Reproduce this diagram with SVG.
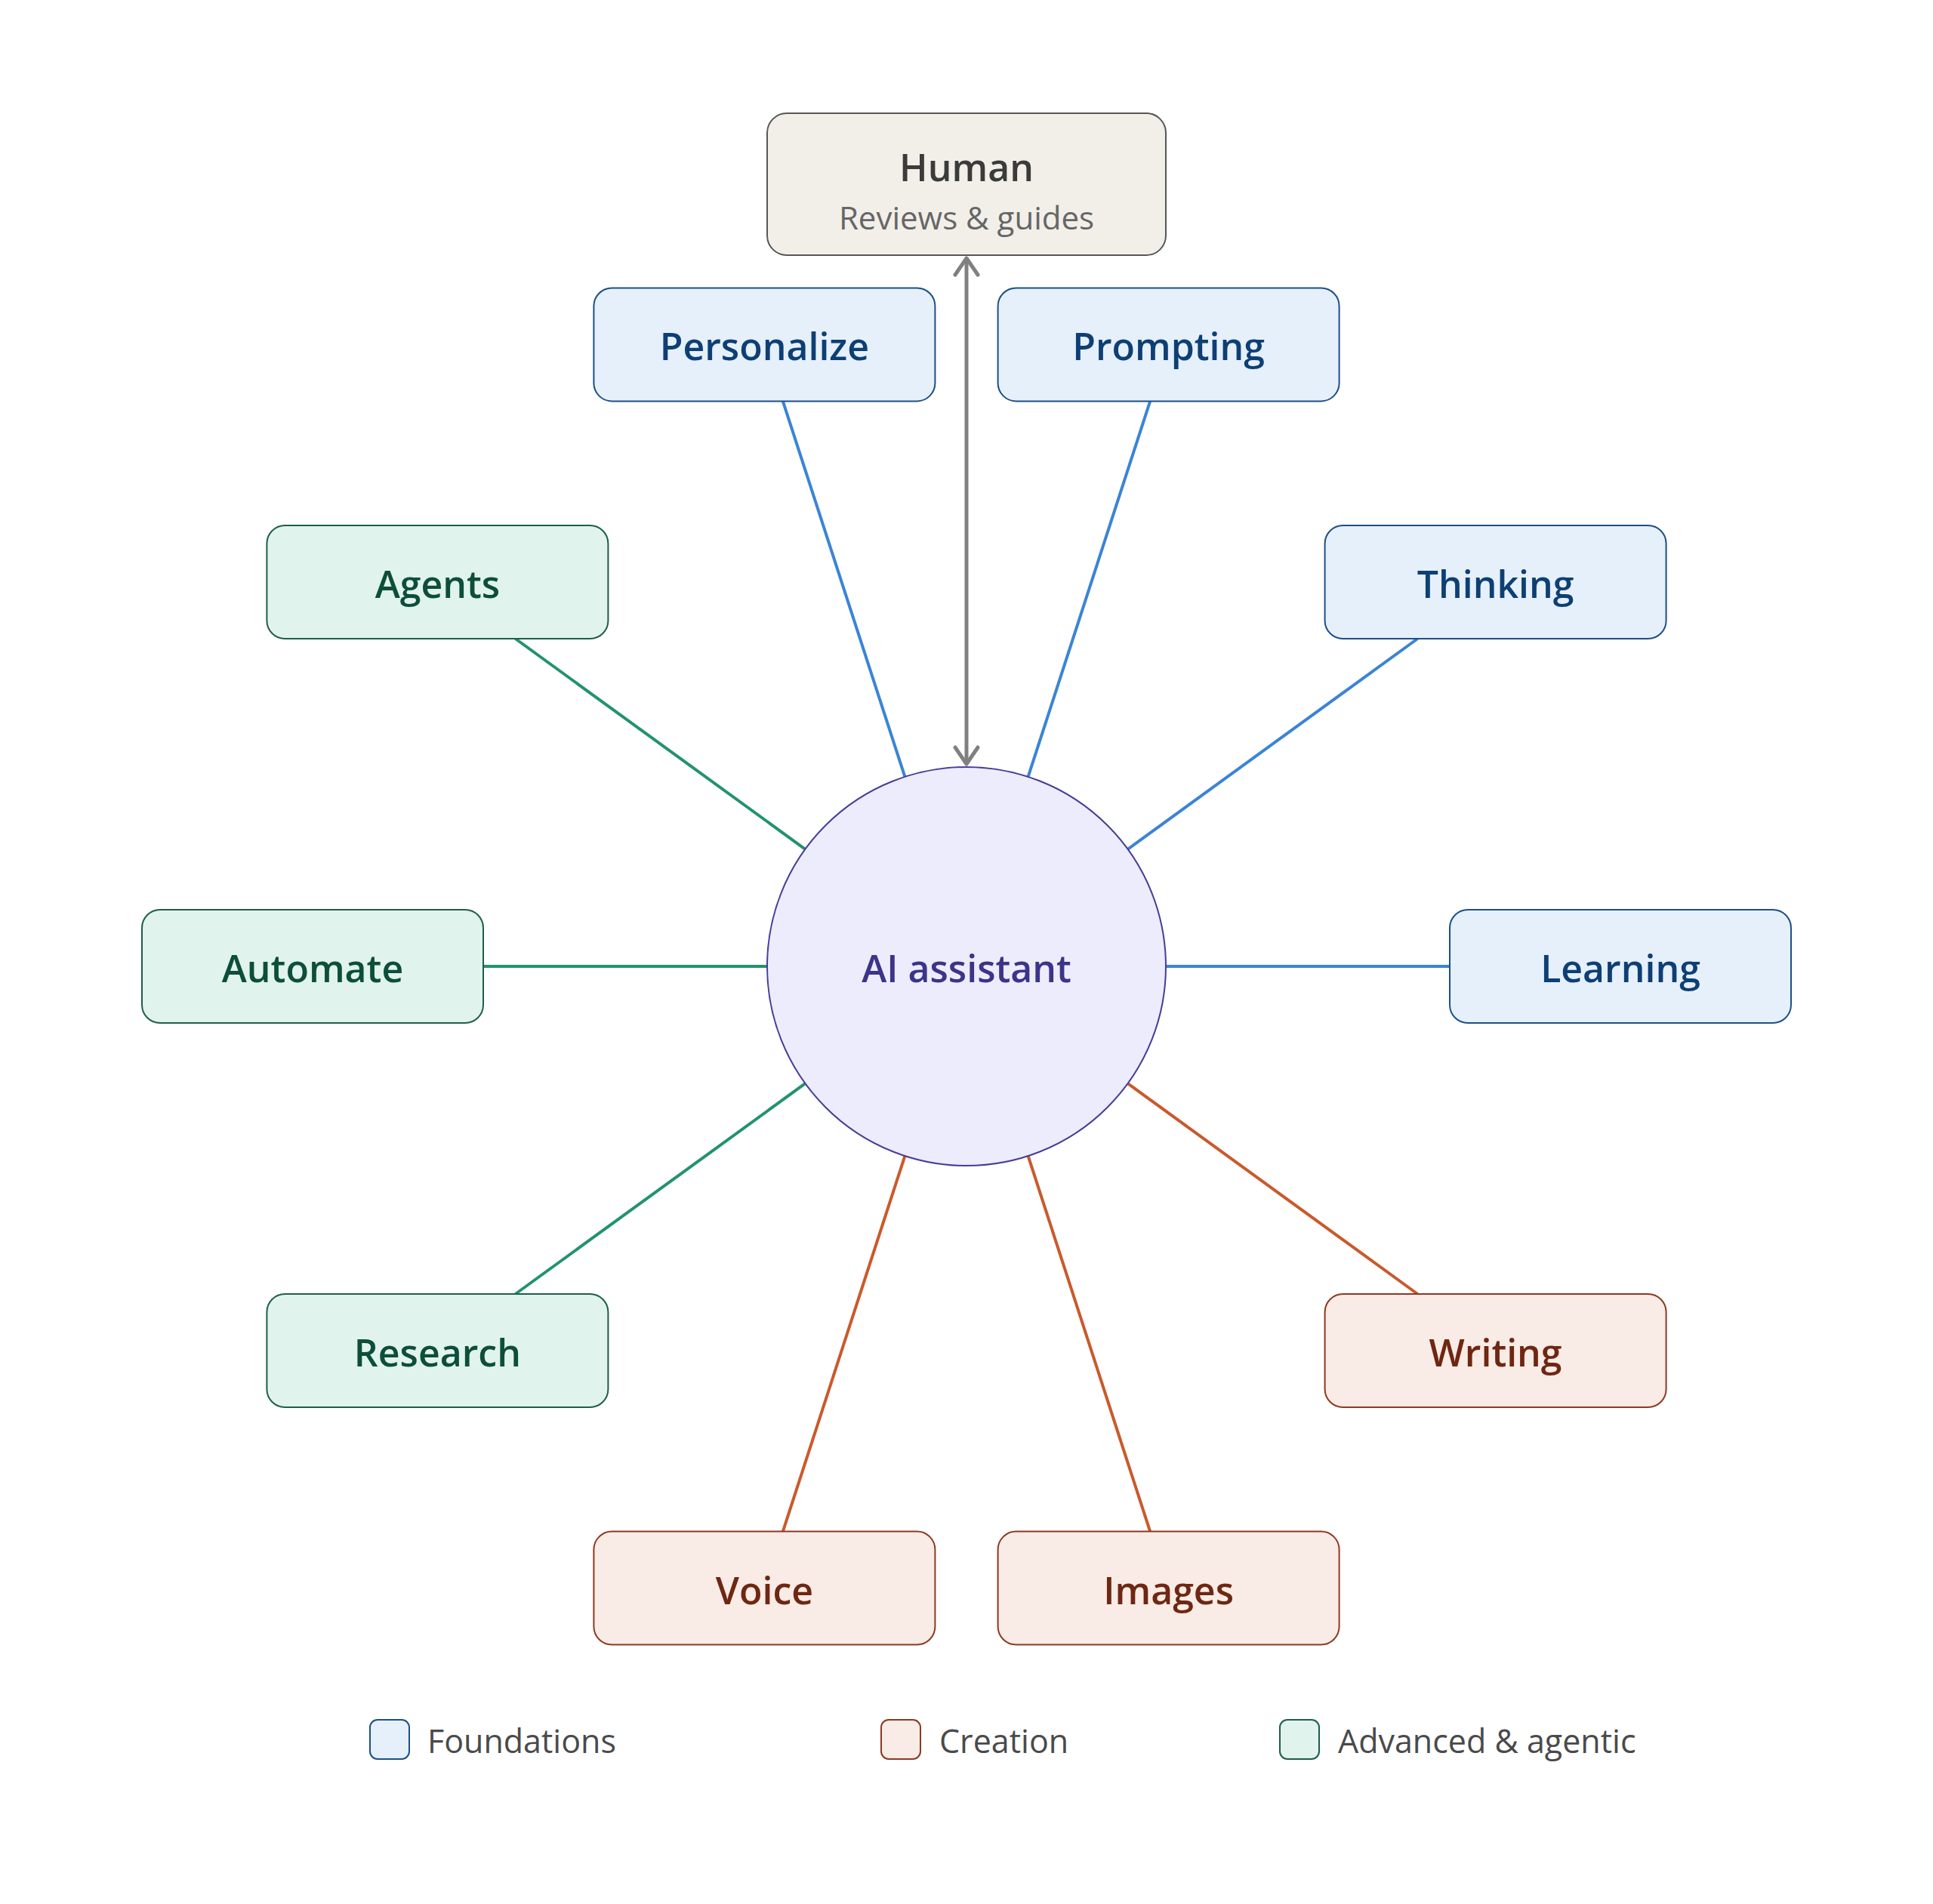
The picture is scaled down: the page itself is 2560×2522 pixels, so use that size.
<svg xmlns="http://www.w3.org/2000/svg" width="2560" height="2522" viewBox="0 0 2560 2522">
  <defs>
    <style>
      .lbl { font-family: "Open Sans", "Noto Sans", "DejaVu Sans", sans-serif; font-size: 50px; font-weight: 600; text-anchor: middle; }
      .box { stroke-width: 2; }
      .f rect, rect.f { fill: #e5f0fb; stroke: #1d4f86; }
      .f text { fill: #0e3f74; }
      .c rect, rect.c { fill: #f9ebe5; stroke: #8b3a22; }
      .c text { fill: #6e2712; }
      .a rect, rect.a { fill: #e0f3ec; stroke: #1f5e48; }
      .a text { fill: #0d4e3a; }
      .lf { stroke: #3b84d5; stroke-width: 4; }
      .lc { stroke: #c95a2c; stroke-width: 4; }
      .la { stroke: #23926f; stroke-width: 4; }
      .leg { font-family: "Open Sans", "Noto Sans", "DejaVu Sans", sans-serif; font-size: 43px; fill: #4a4a4a; }
    </style>
    <marker id="chev" markerUnits="userSpaceOnUse" viewBox="-30 -20 40 40" refX="0" refY="0" markerWidth="40" markerHeight="40" orient="auto-start-reverse" overflow="visible">
      <path d="M -22 -15 L 0 0 L -22 15" fill="none" stroke="#808080" stroke-width="5" stroke-linecap="round" stroke-linejoin="round"/>
    </marker>
  </defs>
  <rect x="0" y="0" width="2560" height="2522" fill="#ffffff"/>

  <g id="connectors" fill="none">
    <line class="lf" x1="1361.6" y1="1028.9" x2="1523.2" y2="531.4"/>
    <line class="lf" x1="1493.6" y1="1124.8" x2="1877.4" y2="846"/>
    <line class="lf" x1="1544" y1="1280" x2="1920" y2="1280"/>
    <line class="lc" x1="1493.6" y1="1435.2" x2="1877.4" y2="1714"/>
    <line class="lc" x1="1361.6" y1="1531.1" x2="1523.2" y2="2028.6"/>
    <line class="lc" x1="1198.4" y1="1531.1" x2="1036.8" y2="2028.6"/>
    <line class="la" x1="1066.4" y1="1435.2" x2="682.6" y2="1714"/>
    <line class="la" x1="1016" y1="1280" x2="640" y2="1280"/>
    <line class="la" x1="1066.4" y1="1124.8" x2="682.6" y2="846"/>
    <line class="lf" x1="1198.4" y1="1028.9" x2="1036.8" y2="531.4"/>
    <line x1="1280" y1="342" x2="1280" y2="1012" stroke="#808080" stroke-width="5" marker-start="url(#chev)" marker-end="url(#chev)"/>
  </g>

  <g id="human">
    <rect x="1016" y="150" width="528" height="188" rx="26" fill="#f2efe9" stroke="#575757" stroke-width="2"/>
    <text class="lbl" x="1280" y="240" fill="#3b3b3b">Human</text>
    <text x="1280" y="304" font-family="Open Sans, Noto Sans, DejaVu Sans, sans-serif" font-size="42" text-anchor="middle" fill="#666666">Reviews &amp; guides</text>
  </g>

  <g id="ai-assistant">
    <circle cx="1280" cy="1280" r="264" fill="#ececfc" stroke="#463d98" stroke-width="2"/>
    <text class="lbl" x="1280" y="1301" fill="#3c3488">AI assistant</text>
  </g>

  <g id="prompting" class="f">
    <rect class="box" x="1321.6" y="381.4" width="452" height="150" rx="24"/>
    <text class="lbl" x="1547.6" y="477.4">Prompting</text>
  </g>
  <g id="thinking" class="f">
    <rect class="box" x="1754.6" y="696" width="452" height="150" rx="24"/>
    <text class="lbl" x="1980.6" y="792">Thinking</text>
  </g>
  <g id="learning" class="f">
    <rect class="box" x="1920" y="1205" width="452" height="150" rx="24"/>
    <text class="lbl" x="2146" y="1301">Learning</text>
  </g>
  <g id="writing" class="c">
    <rect class="box" x="1754.6" y="1714" width="452" height="150" rx="24"/>
    <text class="lbl" x="1980.6" y="1810">Writing</text>
  </g>
  <g id="images" class="c">
    <rect class="box" x="1321.6" y="2028.6" width="452" height="150" rx="24"/>
    <text class="lbl" x="1547.6" y="2124.6">Images</text>
  </g>
  <g id="voice" class="c">
    <rect class="box" x="786.4" y="2028.6" width="452" height="150" rx="24"/>
    <text class="lbl" x="1012.4" y="2124.6">Voice</text>
  </g>
  <g id="research" class="a">
    <rect class="box" x="353.4" y="1714" width="452" height="150" rx="24"/>
    <text class="lbl" x="579.4" y="1810">Research</text>
  </g>
  <g id="automate" class="a">
    <rect class="box" x="188" y="1205" width="452" height="150" rx="24"/>
    <text class="lbl" x="414" y="1301">Automate</text>
  </g>
  <g id="agents" class="a">
    <rect class="box" x="353.4" y="696" width="452" height="150" rx="24"/>
    <text class="lbl" x="579.4" y="792">Agents</text>
  </g>
  <g id="personalize" class="f">
    <rect class="box" x="786.4" y="381.4" width="452" height="150" rx="24"/>
    <text class="lbl" x="1012.4" y="477.4">Personalize</text>
  </g>

  <g id="legend">
    <rect class="f" x="490" y="2278" width="52" height="52" rx="10" stroke-width="2"/>
    <text class="leg" x="566" y="2322">Foundations</text>
    <rect class="c" x="1167" y="2278" width="52" height="52" rx="10" stroke-width="2"/>
    <text class="leg" x="1244" y="2322">Creation</text>
    <rect class="a" x="1695" y="2278" width="52" height="52" rx="10" stroke-width="2"/>
    <text class="leg" x="1772" y="2322">Advanced &amp; agentic</text>
  </g>
</svg>
